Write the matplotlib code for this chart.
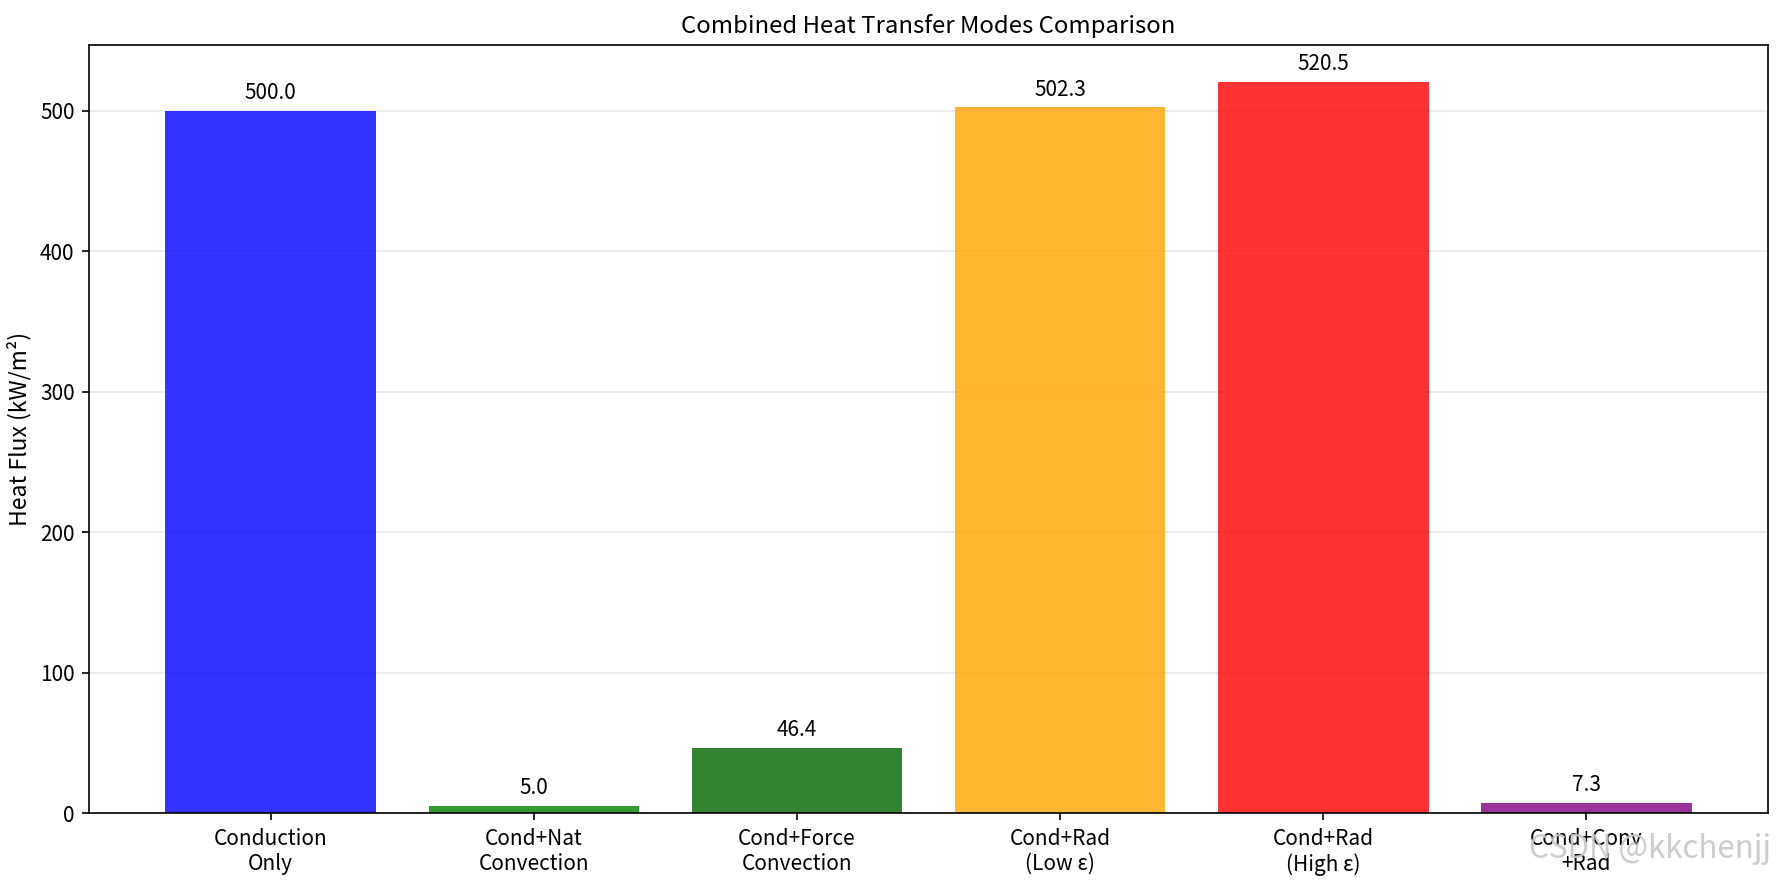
import numpy as np
import matplotlib
matplotlib.use("Agg")
import matplotlib.pyplot as plt

plt.rcParams['font.family'] = ['Noto Sans CJK SC', 'DejaVu Sans']
plt.rcParams['axes.unicode_minus'] = False

# data
modes = ['Conduction\nOnly', 'Cond+Nat\nConvection', 'Cond+Force\nConvection',
         'Cond+Rad\n(Low ε)', 'Cond+Rad\n(High ε)', 'Cond+Conv\n+Rad']
heat_flux = [500.0, 5.0, 46.4, 502.3, 520.5, 7.3]
colors = ['blue', 'green', 'darkgreen', 'orange', 'red', 'purple']

fig = plt.figure(figsize=(11.9, 5.8947), dpi=150)
ax = fig.add_axes([0.0499, 0.0803, 0.9406, 0.8682])

x = np.arange(len(modes))
bars = ax.bar(x, heat_flux, color=colors, alpha=0.8)

# value labels above bars
for b, v in zip(bars, heat_flux):
    ax.text(b.get_x() + b.get_width() / 2, v + 5, '%.1f' % v,
            ha='center', va='bottom', fontsize=10)

ax.set_xticks(x)
ax.set_xticklabels(modes, fontsize=10)
ax.tick_params(axis='y', labelsize=10)
ax.set_ylabel('Heat Flux (kW/m²)', fontsize=11)
ax.set_title('Combined Heat Transfer Modes Comparison', fontsize=11.5)
ax.set_ylim(0, max(heat_flux) * 1.05)
ax.grid(True, axis='y', alpha=0.3)
ax.set_axisbelow(True)

# watermark
fig.text(0.992, 0.022, 'CSDN @kkchenjj', ha='right', va='bottom',
         fontsize=15, color='#c8c8c8', alpha=0.9)

fig.savefig('out.png', dpi=150)
